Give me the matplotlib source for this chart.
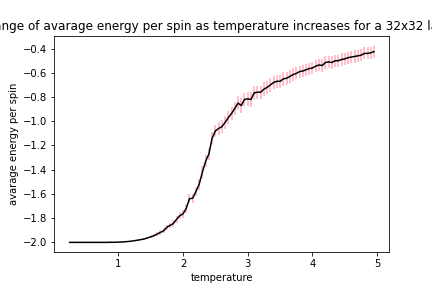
import numpy as np
import matplotlib
matplotlib.use('Agg')
import matplotlib.pyplot as plt

# temperature points (step 0.05)
temps = [0.25, 0.30, 0.35, 0.40, 0.45, 0.50, 0.55, 0.60, 0.65, 0.70,
         0.75, 0.80, 0.85, 0.90, 0.95, 1.00, 1.05, 1.10, 1.15, 1.20,
         1.25, 1.30, 1.35, 1.40, 1.45, 1.50, 1.55, 1.60, 1.65, 1.70,
         1.75, 1.80, 1.85, 1.90, 1.95, 2.00, 2.05, 2.10, 2.15, 2.20,
         2.25, 2.30, 2.35, 2.40, 2.45, 2.50, 2.55, 2.60, 2.65, 2.70,
         2.75, 2.80, 2.85, 2.90, 2.95, 3.00, 3.05, 3.10, 3.15, 3.20,
         3.25, 3.30, 3.35, 3.40, 3.45, 3.50, 3.55, 3.60, 3.65, 3.70,
         3.75, 3.80, 3.85, 3.90, 3.95, 4.00, 4.05, 4.10, 4.15, 4.20,
         4.25, 4.30, 4.35, 4.40, 4.45, 4.50, 4.55, 4.60, 4.65, 4.70,
         4.75, 4.80, 4.85, 4.90, 4.95]

energy = [-2.0, -2.0, -2.0, -2.0, -2.0, -2.0, -2.0, -2.0, -2.0, -2.0,
          -2.0, -2.0, -1.9995, -1.999, -1.999, -1.998, -1.997, -1.995, -1.993, -1.990,
          -1.986, -1.982, -1.977, -1.972, -1.963, -1.955, -1.945, -1.932, -1.918, -1.905,
          -1.875, -1.86, -1.845, -1.81, -1.78, -1.765, -1.72, -1.64, -1.635, -1.58,
          -1.52, -1.42, -1.33, -1.27, -1.14, -1.08, -1.06, -1.045, -1.01, -0.97,
          -0.935, -0.895, -0.85, -0.87, -0.82, -0.815, -0.82, -0.765, -0.76, -0.76,
          -0.735, -0.72, -0.70, -0.68, -0.67, -0.67, -0.65, -0.645, -0.63, -0.615,
          -0.605, -0.59, -0.585, -0.575, -0.565, -0.56, -0.545, -0.535, -0.54, -0.515,
          -0.51, -0.515, -0.50, -0.50, -0.49, -0.485, -0.475, -0.47, -0.465, -0.46,
          -0.455, -0.44, -0.44, -0.435, -0.425]

error = [0.0, 0.0, 0.0, 0.0, 0.0, 0.0, 0.0, 0.0, 0.0, 0.0,
         0.0, 0.0, 0.001, 0.001, 0.001, 0.002, 0.002, 0.003, 0.003, 0.004,
         0.005, 0.006, 0.007, 0.008, 0.01, 0.012, 0.014, 0.016, 0.018, 0.02,
         0.022, 0.024, 0.026, 0.028, 0.03, 0.032, 0.034, 0.036, 0.038, 0.04,
         0.045, 0.05, 0.05, 0.05, 0.05, 0.05, 0.055, 0.055, 0.055, 0.055,
         0.055, 0.055, 0.06, 0.065, 0.055, 0.055, 0.06, 0.055, 0.055, 0.055,
         0.055, 0.055, 0.055, 0.055, 0.055, 0.055, 0.055, 0.055, 0.055, 0.055,
         0.05, 0.05, 0.05, 0.05, 0.05, 0.05, 0.05, 0.05, 0.05, 0.05,
         0.05, 0.05, 0.05, 0.05, 0.05, 0.05, 0.05, 0.05, 0.05, 0.05,
         0.05, 0.05, 0.05, 0.05, 0.05]

fig = plt.figure(figsize=(6, 4), dpi=72)
plt.subplots_adjust(left=0.126, right=0.901, bottom=0.124, top=0.876)
plt.errorbar(temps, energy, yerr=error, color='black', ecolor='pink', elinewidth=2)
plt.title('Change of avarage energy per spin as temperature increases for a 32x32 lattice')
plt.xlabel('temperature')
plt.ylabel('avarage energy per spin')
plt.savefig('out.png', dpi=72)
